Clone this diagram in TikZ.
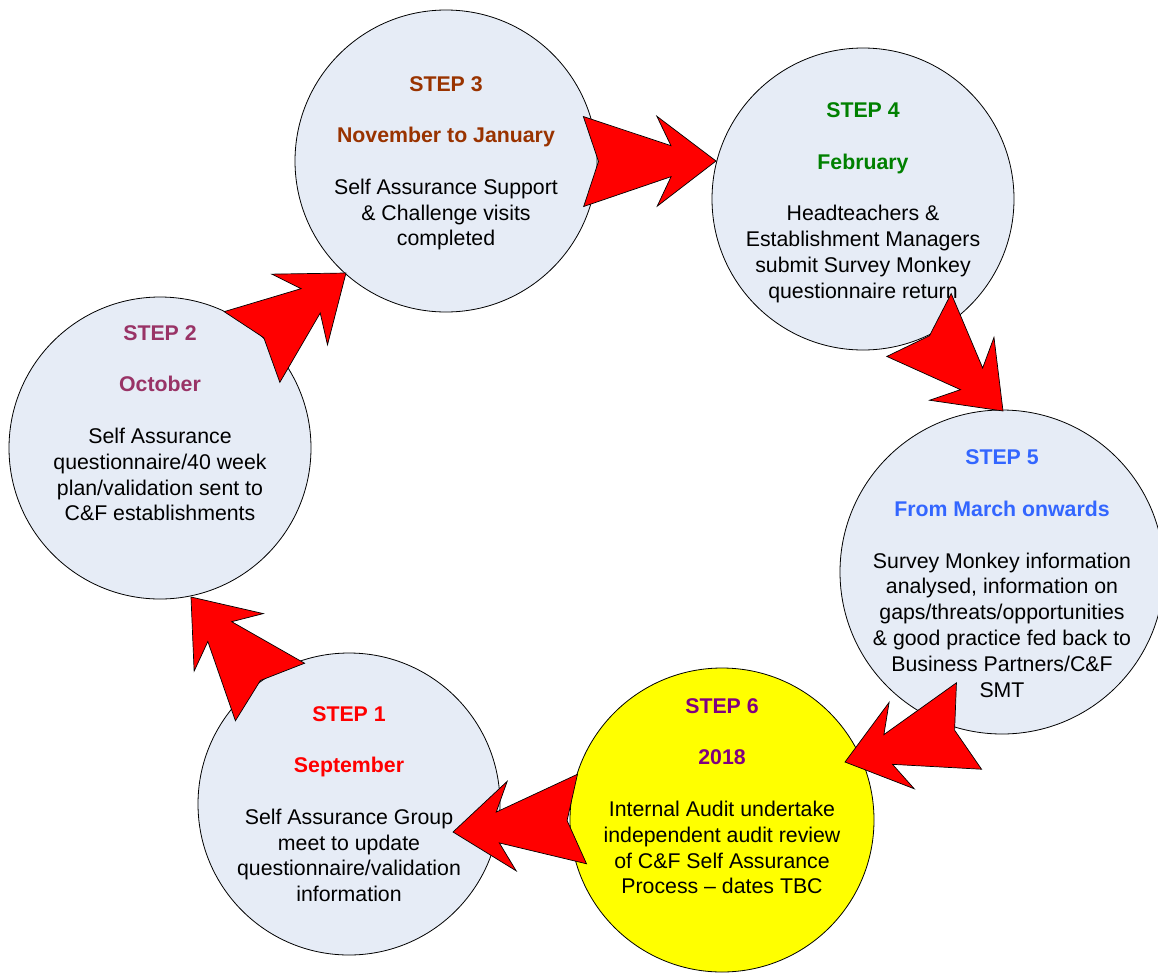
\documentclass[tikz,border=0pt]{standalone}
\usepackage{fontspec}
\setmainfont{Liberation Sans}
\usetikzlibrary{calc}
\definecolor{cfill}{HTML}{E6ECF6}
\definecolor{cyel}{HTML}{FFFF00}
\definecolor{c1}{HTML}{FF0000}
\definecolor{c2}{HTML}{993366}
\definecolor{c3}{HTML}{993300}
\definecolor{c4}{HTML}{008000}
\definecolor{c5}{HTML}{3366FF}
\definecolor{c6}{HTML}{800080}
\newcommand\blockarrow[3]{% #1 prefix, #2 tail centre, #3 tip
  \coordinate (#1-hb) at ($(#3)!59pt!(#2)$);
  \coordinate (#1-hi) at ($(#3)!45pt!(#2)$);
  \coordinate (#1-n) at ($(#2)!15pt!(#3)$);
  \draw[blk] ($(#2)!45pt!90:(#3)$) -- ($(#1-hi)!15.5pt!90:(#3)$) -- ($(#1-hb)!45pt!90:(#3)$) -- (#3)
    -- ($(#1-hb)!45pt!-90:(#3)$) -- ($(#1-hi)!15.5pt!-90:(#3)$) -- ($(#2)!45pt!-90:(#3)$) -- (#1-n) -- cycle;
}
\newcommand\ttl[2]{\textcolor{#1}{\bfseries #2}}
\begin{document}
\begin{tikzpicture}[x=1pt,y=-1pt,
  circ/.style={circle,draw=black,line width=0.8pt,fill=cfill,inner sep=0pt},
  txt/.style={align=center,font=\fontsize{21.3}{25.8}\selectfont,
    execute at begin node=\strut,execute at end node=\strut,inner sep=0pt},
  blk/.style={fill=red,draw=black,line width=0.7pt,line join=miter}]
\useasboundingbox (0,0) rectangle (1158,972);
\fill[white] (0,0) rectangle (1158,972);
\clip (0,0) rectangle (1158,972);

% circles
\node[circ,minimum size=302pt] (s3) at (446,161) {};
\node[circ,minimum size=302pt] (s4) at (863,199) {};
\node[circ,minimum size=302pt] (s2) at (160,448) {};
\node[circ,minimum size=324pt] (s5) at (1002,572) {};
\node[circ,minimum size=304pt,fill=cyel] (s6) at (722,820) {};
\node[circ,minimum size=302pt] (s1) at (349,804) {};

% texts
\node[txt] (t3) at (446,165) {\ttl{c3}{STEP 3}\\[25.8pt]\ttl{c3}{November to January}\\[25.8pt]Self Assurance Support\\\& Challenge visits\\completed};
\node[txt] (t4) at (863,204.4) {\ttl{c4}{STEP 4}\\[25.8pt]\ttl{c4}{February}\\[25.8pt]Headteachers \&\\Establishment Managers\\submit Survey Monkey\\questionnaire return};
\node[txt] (t2) at (160,427) {\ttl{c2}{STEP 2}\\[25.8pt]\ttl{c2}{October}\\[25.8pt]Self Assurance\\questionnaire/40 week\\plan/validation sent to\\C\&F establishments};
\node[txt] (t5) at (1002,577.5) {\ttl{c5}{STEP 5}\\[25.8pt]\ttl{c5}{From March onwards}\\[25.8pt]Survey Monkey information\\analysed, information on\\gaps/threats/opportunities\\\& good practice fed back to\\Business Partners/C\&F\\SMT};
\node[txt] (t6) at (722,800) {\ttl{c6}{STEP 6}\\[25.8pt]\ttl{c6}{2018}\\[25.8pt]Internal Audit undertake\\independent audit review\\of C\&F Self Assurance\\Process – dates TBC};
\node[txt] (t1) at (349,807.8) {\ttl{c1}{STEP 1}\\[25.8pt]\ttl{c1}{September}\\[25.8pt]Self Assurance Group\\meet to update\\questionnaire/validation\\information};

% arrow end points
\coordinate (a1t) at (583.5,161.5); \coordinate (a1h) at (716,161);
\coordinate (a2t) at (252,347);     \coordinate (a2h) at (346,273);
\coordinate (a3t) at (919,325);     \coordinate (a3h) at (1003,411);
\coordinate (a4t) at (969,726);     \coordinate (a4h) at (845,762);
\coordinate (a5t) at (582,819);     \coordinate (a5h) at (453,832);
\coordinate (a6t) at (270,692);     \coordinate (a6h) at (191,597);

\blockarrow{a1}{a1t}{a1h}
\blockarrow{a2}{a2t}{a2h}
\blockarrow{a3}{a3t}{a3h}
\blockarrow{a4}{a4t}{a4h}
\blockarrow{a5}{a5t}{a5h}
\blockarrow{a6}{a6t}{a6h}
\end{tikzpicture}
\end{document}
